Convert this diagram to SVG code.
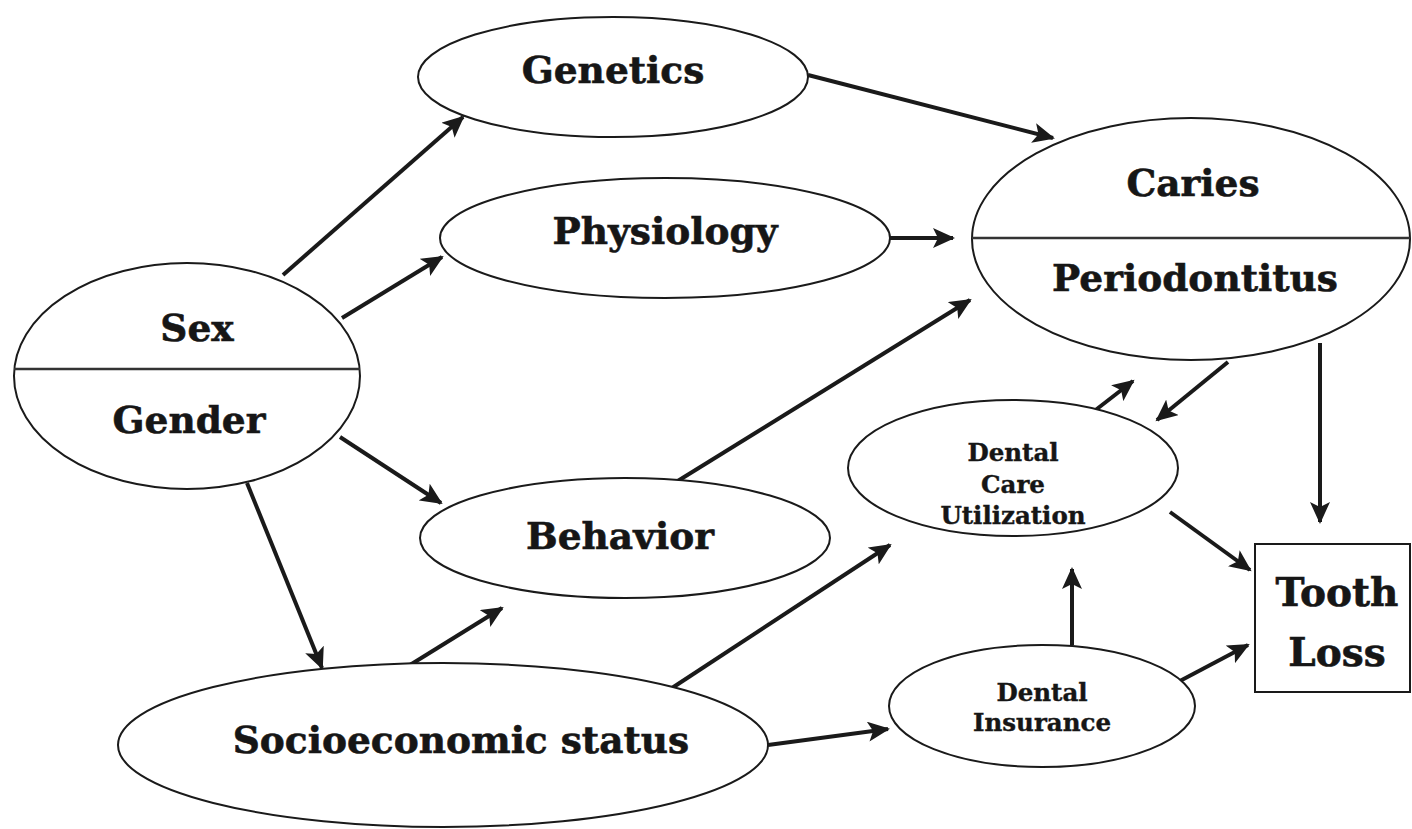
<svg xmlns="http://www.w3.org/2000/svg" width="1412" height="829" viewBox="0 0 1412 829">
  <style>
    .node { fill: #ffffff; stroke: #1a1a1a; stroke-width: 2; }
    .div { stroke: #333333; stroke-width: 2.5; }
    .lbl { font-family: "DejaVu Serif", "Liberation Serif", serif; font-weight: bold; fill: #161616; stroke: #161616; stroke-width: 0.6; text-anchor: middle; }
    .big { font-size: 37.5px; }
    .box { font-size: 39px; }
    .small { font-size: 24.5px; stroke-width: 0.4; }
    .edge { stroke: #1a1a1a; stroke-width: 4; fill: none; marker-end: url(#arrow); }
  </style>
  <defs>
    <marker id="arrow" markerUnits="userSpaceOnUse" markerWidth="24" markerHeight="20" refX="20" refY="10" orient="auto">
      <path d="M0,0 L22,10 L0,20 L5,10 Z" fill="#1a1a1a"/>
    </marker>
  </defs>
  <rect width="1412" height="829" fill="#ffffff"/>

  <g id="connectors">
    <line class="edge" x1="283" y1="275" x2="463" y2="117"/>
    <line class="edge" x1="342" y1="318" x2="442" y2="257"/>
    <line class="edge" x1="340" y1="437" x2="441" y2="503"/>
    <line class="edge" x1="247" y1="483" x2="322" y2="668"/>
    <line class="edge" x1="808" y1="75" x2="1053" y2="138"/>
    <line class="edge" x1="890" y1="238" x2="953" y2="238"/>
    <line class="edge" x1="668" y1="487" x2="970" y2="300"/>
    <line class="edge" x1="410" y1="665" x2="502" y2="608"/>
    <line class="edge" x1="672" y1="688" x2="890" y2="545"/>
    <line class="edge" x1="768" y1="745" x2="888" y2="729"/>
    <line class="edge" x1="1093" y1="412" x2="1133" y2="381"/>
    <line class="edge" x1="1228" y1="362" x2="1157" y2="420"/>
    <line class="edge" x1="1320" y1="343" x2="1320" y2="522"/>
    <line class="edge" x1="1170" y1="512" x2="1250" y2="570"/>
    <line class="edge" x1="1072" y1="645" x2="1072" y2="569"/>
    <line class="edge" x1="1178" y1="682" x2="1248" y2="645"/>
  </g>

  <g id="sex-gender">
    <ellipse class="node" cx="187" cy="376" rx="173" ry="113"/>
    <line class="div" x1="14" y1="369" x2="360" y2="369"/>
    <text class="lbl big" x="197" y="341">Sex</text>
    <text class="lbl big" x="189" y="433">Gender</text>
  </g>

  <g id="genetics">
    <ellipse class="node" cx="613" cy="77" rx="195" ry="60"/>
    <text class="lbl big" x="613" y="83">Genetics</text>
  </g>

  <g id="physiology">
    <ellipse class="node" cx="665" cy="238" rx="225" ry="60"/>
    <text class="lbl big" x="665" y="244">Physiology</text>
  </g>

  <g id="caries-periodontitus">
    <ellipse class="node" cx="1191" cy="239" rx="219" ry="121"/>
    <line class="div" x1="972" y1="238" x2="1410" y2="238"/>
    <text class="lbl big" x="1193" y="196">Caries</text>
    <text class="lbl big" x="1195" y="291">Periodontitus</text>
  </g>

  <g id="behavior">
    <ellipse class="node" cx="625" cy="538" rx="205" ry="60"/>
    <text class="lbl big" x="620" y="549">Behavior</text>
  </g>

  <g id="dental-care">
    <ellipse class="node" cx="1013" cy="468" rx="165" ry="68"/>
    <text class="lbl small" x="1013" y="461">Dental</text>
    <text class="lbl small" x="1013" y="493">Care</text>
    <text class="lbl small" x="1013" y="524">Utilization</text>
  </g>

  <g id="tooth-loss">
    <rect class="node" x="1255" y="544" width="155" height="148"/>
    <text class="lbl box" x="1337" y="606">Tooth</text>
    <text class="lbl box" x="1337" y="666">Loss</text>
  </g>

  <g id="ses">
    <ellipse class="node" cx="443" cy="745" rx="325" ry="82"/>
    <text class="lbl big" x="461" y="753">Socioeconomic status</text>
  </g>

  <g id="dental-insurance">
    <ellipse class="node" cx="1042" cy="706" rx="153" ry="61"/>
    <text class="lbl small" x="1042" y="701">Dental</text>
    <text class="lbl small" x="1042" y="731">Insurance</text>
  </g>
</svg>
